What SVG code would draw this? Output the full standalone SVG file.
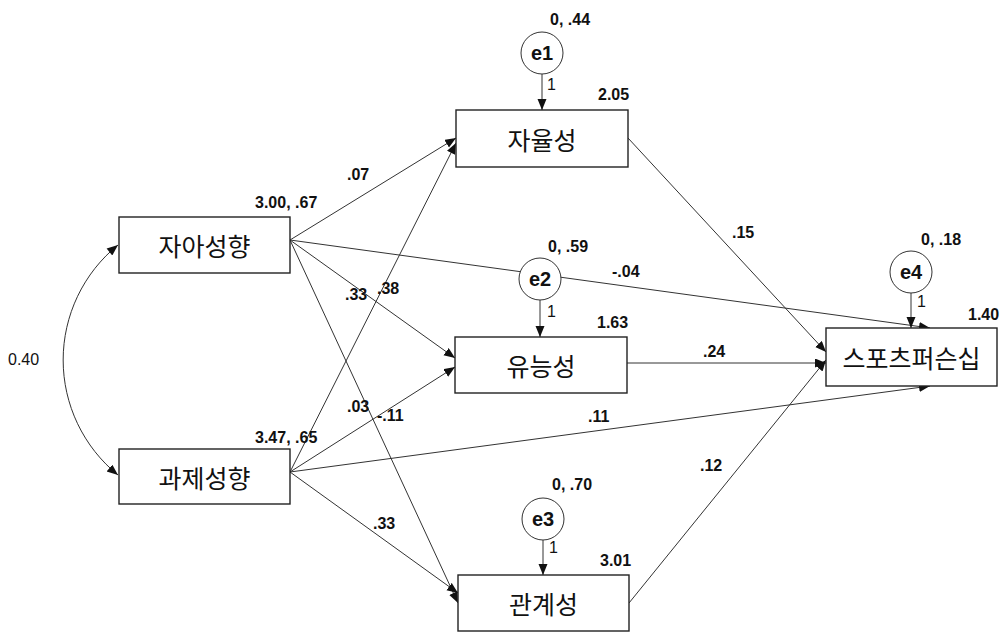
<svg xmlns="http://www.w3.org/2000/svg" width="1002" height="633" viewBox="0 0 1002 633">
<style>
.box{fill:#fff;stroke:#222;stroke-width:1.4}
.err{fill:#fff;stroke:#333;stroke-width:1}
.nt{font-family:"Noto Sans CJK KR","Liberation Sans",sans-serif;font-size:25px;fill:#111;text-anchor:middle;dominant-baseline:central}
.et{font-family:"Liberation Sans",Arial,sans-serif;font-size:20px;font-weight:bold;fill:#111;text-anchor:middle;dominant-baseline:central}
.lb{font-family:"Liberation Sans",Arial,sans-serif;font-size:16px;font-weight:bold;fill:#111}
.one{font-family:"Liberation Sans",Arial,sans-serif;font-size:16px;fill:#111}
.cn{fill:none;stroke:#333;stroke-width:1}
</style>
<defs>
<marker id="ah" markerUnits="userSpaceOnUse" markerWidth="12" markerHeight="10" refX="11" refY="4.5" orient="auto">
<path d="M0,0 L11,4.5 L0,9 Z" fill="#111"/>
</marker>
<marker id="ahs" markerUnits="userSpaceOnUse" markerWidth="12" markerHeight="10" refX="0" refY="4.5" orient="auto">
<path d="M11,0 L0,4.5 L11,9 Z" fill="#111"/>
</marker>
</defs>
<rect width="1002" height="633" fill="#fff"/>
<g id="connectors">
<path class="cn" d="M118,245 A148,148 0 0,0 118,475" marker-start="url(#ahs)" marker-end="url(#ah)"/>
<line class="cn" x1="290" y1="240" x2="456" y2="138" marker-end="url(#ah)"/>
<line class="cn" x1="290" y1="240" x2="455" y2="358" marker-end="url(#ah)"/>
<line class="cn" x1="290" y1="240" x2="458" y2="603" marker-end="url(#ah)"/>
<line class="cn" x1="290" y1="240" x2="930" y2="328" marker-end="url(#ah)"/>
<line class="cn" x1="290" y1="472" x2="456" y2="143" marker-end="url(#ah)"/>
<line class="cn" x1="290" y1="472" x2="455" y2="367" marker-end="url(#ah)"/>
<line class="cn" x1="290" y1="472" x2="458" y2="593" marker-end="url(#ah)"/>
<line class="cn" x1="290" y1="472" x2="930" y2="386" marker-end="url(#ah)"/>
<line class="cn" x1="628" y1="138" x2="826" y2="352" marker-end="url(#ah)"/>
<line class="cn" x1="627" y1="363" x2="826" y2="363" marker-end="url(#ah)"/>
<line class="cn" x1="629" y1="603" x2="826" y2="360" marker-end="url(#ah)"/>
<line class="cn" x1="542" y1="74" x2="542" y2="110" marker-end="url(#ah)"/>
<line class="cn" x1="540" y1="300" x2="540" y2="337" marker-end="url(#ah)"/>
<line class="cn" x1="543" y1="540" x2="543" y2="575" marker-end="url(#ah)"/>
<line class="cn" x1="911" y1="293" x2="911" y2="328" marker-end="url(#ah)"/>
<text class="lb" x="347" y="180">.07</text>
<text class="lb" x="345" y="300">.33</text>
<text class="lb" x="377" y="294">.38</text>
<text class="lb" x="347" y="412">.03</text>
<text class="lb" x="377" y="421">-.11</text>
<text class="lb" x="612" y="277">-.04</text>
<text class="lb" x="732" y="238">.15</text>
<text class="lb" x="703" y="357">.24</text>
<text class="lb" x="588" y="422">.11</text>
<text class="lb" x="700" y="471">.12</text>
<text class="lb" x="373" y="529">.33</text>
<text class="one" x="8" y="365">0.40</text>
<text class="one" x="547" y="90">1</text>
<text class="one" x="547" y="317">1</text>
<text class="one" x="549" y="553">1</text>
<text class="one" x="917" y="307">1</text>
</g>
<g id="n_jaaseonghyang">
<rect class="box" x="119" y="217" width="171" height="56"/>
<text class="nt" x="204.5" y="245">자아성향</text>
<text class="lb" x="255" y="208">3.00, .67</text>
</g>
<g id="n_gwajeseonghyang">
<rect class="box" x="119" y="449" width="171" height="55"/>
<text class="nt" x="204.5" y="476.5">과제성향</text>
<text class="lb" x="255" y="443">3.47, .65</text>
</g>
<g id="n_jayulseong">
<rect class="box" x="456" y="110" width="172" height="57"/>
<text class="nt" x="542" y="138.5">자율성</text>
<text class="lb" x="598" y="100">2.05</text>
</g>
<g id="n_yuneungseong">
<rect class="box" x="455" y="337" width="172" height="56"/>
<text class="nt" x="541" y="365">유능성</text>
<text class="lb" x="597" y="328">1.63</text>
</g>
<g id="n_gwangyeseong">
<rect class="box" x="458" y="575" width="171" height="56"/>
<text class="nt" x="543.5" y="603">관계성</text>
<text class="lb" x="600" y="566">3.01</text>
</g>
<g id="n_sportsmanship">
<rect class="box" x="826" y="328" width="171" height="58"/>
<text class="nt" x="911.5" y="357">스포츠퍼슨십</text>
<text class="lb" x="968" y="320">1.40</text>
</g>
<g id="e1">
<circle class="err" cx="542" cy="53" r="21"/>
<text class="et" x="542" y="53">e1</text>
<text class="lb" x="550" y="25">0, .44</text>
</g>
<g id="e2">
<circle class="err" cx="540" cy="279" r="21"/>
<text class="et" x="540" y="279">e2</text>
<text class="lb" x="548" y="252">0, .59</text>
</g>
<g id="e3">
<circle class="err" cx="543" cy="519" r="21"/>
<text class="et" x="543" y="519">e3</text>
<text class="lb" x="552" y="490">0, .70</text>
</g>
<g id="e4">
<circle class="err" cx="911" cy="272" r="21"/>
<text class="et" x="911" y="272">e4</text>
<text class="lb" x="921" y="245">0, .18</text>
</g>
</svg>
